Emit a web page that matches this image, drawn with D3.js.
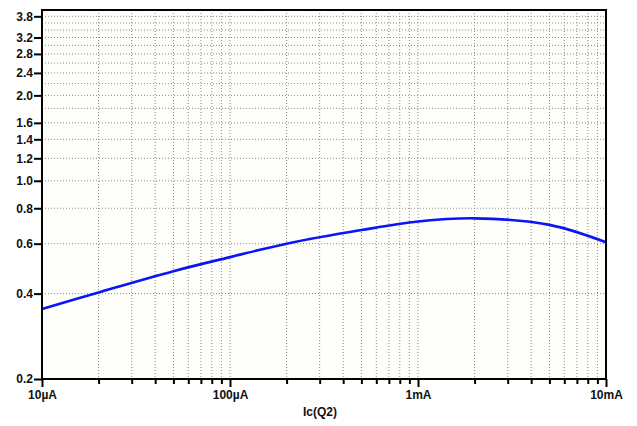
<!DOCTYPE html>
<html>
<head>
<meta charset="utf-8">
<title>Ic(Q2)</title>
<script src="https://cdn.jsdelivr.net/npm/d3@7/dist/d3.min.js"></script>
<style>
	body { margin: 0; background: #ffffff; }
	svg { display: block; font-family: "Liberation Sans", Arial, sans-serif; }
	.grid line { stroke: #8c8c8c; stroke-width: 1; stroke-dasharray: 1,2; }
	.axis text { font-size: 12px; font-weight: bold; fill: #111; }
	.axis line, .axis path { stroke: #000; stroke-width: 2; }
</style>
</head>
<body>
<svg width="637" height="426"></svg>
<script>
'use strict';

// collector current (A) and the curve
var ic_values = [10e-6, 20e-6, 50e-6, 100e-6, 200e-6, 500e-6, 1e-3, 2e-3, 5e-3, 10e-3];
var gain_values = [0.353, 0.404, 0.480, 0.538, 0.600, 0.670, 0.718, 0.737, 0.699, 0.607];

var x_ticks = [10e-6, 100e-6, 1e-3, 10e-3];
var x_tick_labels = ['10µA', '100µA', '1mA', '10mA'];
var y_ticks = [0.2, 0.4, 0.6, 0.8, 1.0, 1.2, 1.4, 1.6, 2.0, 2.4, 2.8, 3.2, 3.8];
var y_grid = [0.4, 0.6, 0.8, 1.0, 1.2, 1.4, 1.6, 1.8, 2.0, 2.2, 2.4, 2.6, 2.8, 3.0, 3.2, 3.4, 3.6, 3.8];
var x_label = 'Ic(Q2)';

var margin = {top: 10, right: 31, bottom: 47, left: 42};
var width = 637 - margin.left - margin.right,
	height = 426 - margin.top - margin.bottom;

var axis_x = d3.scaleLog().domain([10e-6, 10e-3]).range([0, width]);
var axis_y = d3.scaleLog().domain([0.2, 4.0]).range([height, 0]);

// minor decades for the vertical grid
var x_grid = [];
x_ticks.forEach(function(d, i) {
	if (i == x_ticks.length - 1) return;
	for (var k = 2; k < 10; k++) x_grid.push(d * k);
});

var svg = d3.select('svg')
	.append('g')
	.attr('transform', 'translate(' + margin.left + ',' + margin.top + ')');

svg.append('rect')
	.attr('width', width)
	.attr('height', height)
	.attr('fill', '#fefefb');

// Grid
var grid = svg.append('g').attr('class', 'grid');
grid.selectAll('.vx')
	.data(x_grid.concat(x_ticks.slice(1, 3)))
	.enter().append('line')
	.attr('x1', function(d) { return axis_x(d); })
	.attr('x2', function(d) { return axis_x(d); })
	.attr('y1', 0)
	.attr('y2', height);
grid.selectAll('.hy')
	.data(y_grid)
	.enter().append('line')
	.attr('x1', 0)
	.attr('x2', width)
	.attr('y1', function(d) { return axis_y(d); })
	.attr('y2', function(d) { return axis_y(d); });

// Curve
var points = ic_values.map(function(d, i) { return {x: d, y: gain_values[i]}; });
svg.append('path')
	.datum(points)
	.attr('fill', 'none')
	.attr('stroke', '#0a14f5')
	.attr('stroke-width', 2.6)
	.attr('d', d3.line()
		.x(function(d) { return axis_x(d.x); })
		.y(function(d) { return axis_y(d.y); })
		.curve(d3.curveCatmullRom.alpha(0.5)));

// Axes
svg.append('g')
	.attr('class', 'axis')
	.attr('transform', 'translate(0,' + height + ')')
	.call(d3.axisBottom(axis_x).tickValues(x_grid).tickSize(5).tickFormat(''))
	.call(function(g) { g.select('.domain').remove(); });

svg.append('g')
	.attr('class', 'axis')
	.attr('transform', 'translate(0,' + height + ')')
	.call(d3.axisBottom(axis_x)
		.tickValues(x_ticks)
		.tickSize(8)
		.tickPadding(3)
		.tickFormat(function(d, i) { return x_tick_labels[i]; }))
	.call(function(g) { g.select('.domain').remove(); });

svg.append('g')
	.attr('class', 'axis')
	.call(d3.axisLeft(axis_y)
		.tickValues(y_ticks)
		.tickSize(8)
		.tickPadding(1)
		.tickFormat(d3.format('.1f')))
	.call(function(g) { g.select('.domain').remove(); });

// Frame
svg.append('rect')
	.attr('width', width)
	.attr('height', height)
	.attr('fill', 'none')
	.attr('stroke', '#000')
	.attr('stroke-width', 2);

// Legend
svg.append('text')
	.attr('x', axis_x(x_ticks[0]) + width / 2 - 4)
	.attr('y', height + 37)
	.style('text-anchor', 'middle')
	.style('font-size', '12px')
	.style('font-weight', 'bold')
	.attr('fill', '#111')
	.text(x_label);
</script>
</body>
</html>
